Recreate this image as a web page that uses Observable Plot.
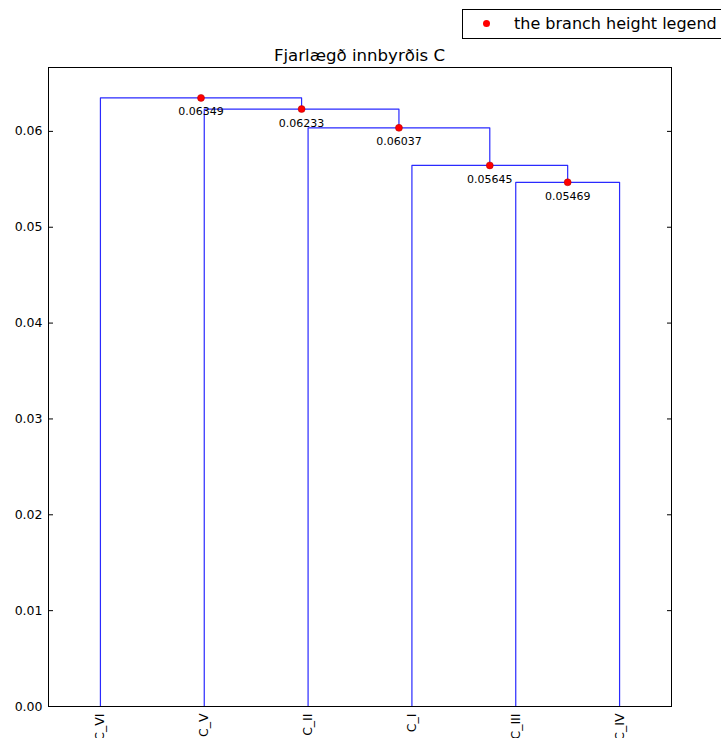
<!DOCTYPE html>
<html><head><meta charset="utf-8">
<script src="https://cdn.jsdelivr.net/npm/d3@7"></script>
<script src="https://cdn.jsdelivr.net/npm/@observablehq/plot@0.6"></script>
<style>
body{margin:0;background:#fff;}
#wrap{position:relative;width:721px;height:738px;overflow:hidden;font-family:"DejaVu Sans",sans-serif;}
#chart{position:absolute;left:0;top:0;}
#title{position:absolute;left:48px;width:623px;top:46px;text-align:center;font-size:16.6px;line-height:19px;color:#000;}
#legend{position:absolute;left:462px;top:9px;width:290px;height:28px;border:1px solid #000;background:#fff;}
#legend .dot{position:absolute;left:20px;top:10px;width:7px;height:7px;border-radius:50%;background:#ff0000;}
#legend .lab{position:absolute;left:51px;top:4px;font-size:16px;line-height:19px;white-space:nowrap;color:#000;}
</style></head>
<body>
<div id="wrap">
  <div id="chart"></div>
  <div id="title"></div>
  <div id="legend"><span class="dot"></span><span class="lab"></span></div>
</div>
<script>
const titleText = "Fjarlægð innbyrðis C";
const legendText = "the branch height legend";
const leaves = ["C_VI", "C_V", "C_II", "C_I", "C_III", "C_IV"];
// merges: node ids 0..5 are leaves (display order), 6.. are merges
const mergeLeft = [4, 3, 2, 1, 0];
const mergeRight = [5, 6, 7, 8, 9];
const mergeHeights = [0.05469, 0.05645, 0.06037, 0.06233, 0.06349];
const yTicks = [0, 0.01, 0.02, 0.03, 0.04, 0.05, 0.06];

document.getElementById("title").textContent = titleText;
document.querySelector("#legend .lab").textContent = legendText;

// node positions (scipy dendrogram convention: leaves at 5, 15, 25, ...)
const nodeX = leaves.map((_, i) => 5 + 10 * i);
const nodeY = leaves.map(() => 0);
const links = [];
const nodes = [];
mergeHeights.forEach((h, k) => {
  const a = mergeLeft[k], b = mergeRight[k];
  const x = (nodeX[a] + nodeX[b]) / 2;
  nodeX.push(x); nodeY.push(h);
  links.push({id: k, x: nodeX[a], y: nodeY[a]});
  links.push({id: k, x: nodeX[a], y: h});
  links.push({id: k, x: nodeX[b], y: h});
  links.push({id: k, x: nodeX[b], y: nodeY[b]});
  nodes.push({x, y: h, label: h.toFixed(5)});
});
const leafX = leaves.map((_, i) => nodeX[i]);
const leafName = new Map(leafX.map((x, i) => [x, leaves[i]]));
const yMax = d3.max(mergeHeights) * 1.05;

const chart = Plot.plot({
  width: 721, height: 738,
  marginLeft: 48, marginRight: 50, marginTop: 67, marginBottom: 32,
  x: {domain: [0, 60]},
  y: {domain: [0, yMax]},
  style: {fontFamily: "DejaVu Sans", fontSize: "12.5px", background: "transparent", color: "#000"},
  marks: [
    Plot.line(links, {x: "x", y: "y", z: "id", stroke: "#2a2aff", strokeWidth: 1.2}),
    Plot.frame({stroke: "#000", strokeWidth: 1}),
    Plot.dot(nodes, {x: "x", y: "y", r: 3.5, fill: "#ff0000", stroke: "#aa0000", strokeWidth: 0.5}),
    Plot.text(nodes, {x: "x", y: "y", text: "label", dy: 14, fontSize: 11, fill: "#000"}),
    Plot.axisY(yTicks, {anchor: "left", tickFormat: d3.format(".2f"), tickSize: 0, tickPadding: 6, label: null}),
    Plot.axisY(yTicks, {anchor: "left", tickFormat: () => "", tickSize: -5, tickPadding: 0, label: null}),
    Plot.axisY(yTicks, {anchor: "right", tickFormat: () => "", tickSize: -5, tickPadding: 0, label: null}),
    Plot.axisX(leafX, {anchor: "bottom", tickFormat: d => leafName.get(d), tickRotate: -90, tickSize: 0, tickPadding: 7, label: null})
  ]
});
document.getElementById("chart").appendChild(chart);
</script>
</body></html>
